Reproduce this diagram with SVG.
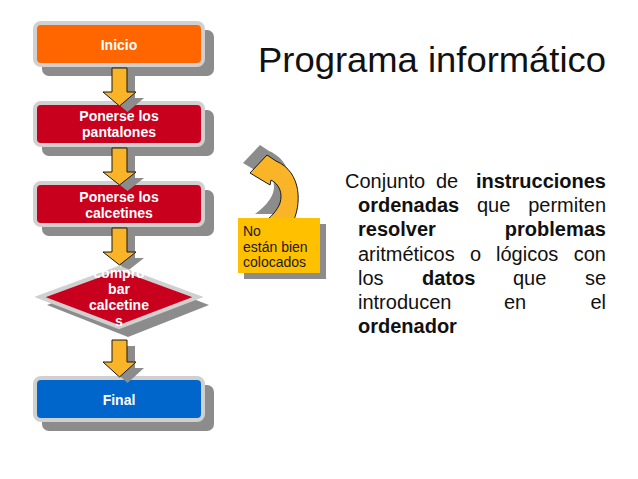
<svg xmlns="http://www.w3.org/2000/svg" width="638" height="479" viewBox="0 0 638 479">
<defs>
<style>
.shadow{fill:#8c8c8c}
.box{stroke:#d0d0d0;stroke-width:4}
.lbl{font-family:"Liberation Sans",Arial,sans-serif;font-size:14px;font-weight:bold;fill:#ffffff;text-anchor:middle}
.arrow{fill:#f9b427;stroke:#1a1a1a;stroke-width:1}
.body{font-family:"Liberation Sans",Arial,sans-serif;font-size:20px;fill:#111111}
.b{font-weight:bold}
.end{text-anchor:end}
</style>
</defs>
<rect width="638" height="479" fill="#ffffff"/>

<g id="node-inicio">
<rect class="shadow" x="42" y="30" width="172" height="46" rx="7"/>
<rect class="box" x="35" y="23" width="168" height="42" rx="6" fill="#ff6600"/>
<text class="lbl" x="119" y="50">Inicio</text>
</g>

<g id="node-pantalones">
<rect class="shadow" x="42" y="110" width="172" height="46" rx="7"/>
<rect class="box" x="35" y="103" width="168" height="42" rx="6" fill="#c8001e"/>
<text class="lbl" x="119" y="121">Ponerse los</text>
<text class="lbl" x="119" y="137">pantalones</text>
</g>

<g id="node-calcetines">
<rect class="shadow" x="42" y="190" width="172" height="46" rx="7"/>
<rect class="box" x="35" y="183" width="168" height="42" rx="6" fill="#c8001e"/>
<text class="lbl" x="119" y="202">Ponerse los</text>
<text class="lbl" x="119" y="218">calcetines</text>
</g>

<g id="node-final">
<rect class="shadow" x="42" y="385" width="172" height="46" rx="7"/>
<rect class="box" x="35" y="378" width="168" height="42" rx="6" fill="#0066cc"/>
<text class="lbl" x="119" y="405">Final</text>
</g>

<g id="connectors">
<g class="shadow">
<polygon points="120,74 135,74 135,98 144,98 127.5,112 111,98 120,98"/>
<polygon points="120,154 135,154 135,178 144,178 127.5,191 111,178 120,178"/>
<polygon points="120,234 135,234 135,258 144,258 127.5,271 111,258 120,258"/>
<polygon points="120,346 135,346 135,368 144,368 127.5,383 111,368 120,368"/>
</g>
<polygon class="arrow" points="112,68 127,68 127,92 136,92 119.5,106 103,92 112,92"/>
<polygon class="arrow" points="112,148 127,148 127,172 136,172 119.5,185 103,172 112,172"/>
<polygon class="arrow" points="112,228 127,228 127,252 136,252 119.5,265 103,252 112,252"/>
</g>

<g id="node-comprobar">
<polygon class="shadow" points="47,305 128,274 209,305 128,337"/>
<polygon class="box" points="40,297 119,268 198,297 119,327" fill="#c8001e"/>
<text class="lbl" x="119" y="278">compro</text>
<text class="lbl" x="119" y="294">bar</text>
<text class="lbl" x="119" y="310">calcetine</text>
<text class="lbl" x="119" y="326">s</text>
</g>

<g id="connector-4">
<polygon class="arrow" points="112,340 127,340 127,362 136,362 119.5,377 103,362 112,362"/>
</g>

<g id="node-loop">
<path class="shadow" transform="translate(-7,-10)" d="M 292 224 C 302 205, 302 172, 276 161 L 267 155 L 250 173 L 270 185 L 271 180 C 279 184, 283 193, 280 203 C 277 211, 271 217, 262 224 Z"/>
<path fill="#f9b427" stroke="#1a1a1a" stroke-width="1" d="M 292 224 C 302 205, 302 172, 276 161 L 267 155 L 250 173 L 270 185 L 271 180 C 279 184, 283 193, 280 203 C 277 211, 271 217, 262 224 Z"/>
</g>

<g id="node-note">
<rect class="shadow" x="244" y="224" width="82" height="55"/>
<rect x="238" y="218" width="82" height="55" fill="#ffc000"/>
<g font-family="Liberation Sans, Arial, sans-serif" font-size="14" fill="#1a1a1a">
<text x="243" y="236">No</text>
<text x="243" y="251.5">están bien</text>
<text x="243" y="266.5">colocados</text>
</g>
</g>

<text x="258" y="72" font-family="Liberation Sans, Arial, sans-serif" font-size="35" fill="#111111" textLength="348" lengthAdjust="spacingAndGlyphs">Programa informático</text>

<g class="body">
<text x="345" y="188">Conjunto</text>
<text x="436" y="188">de</text>
<text class="b end" x="606" y="188">instrucciones</text>
<text class="b" x="358" y="212.2">ordenadas</text>
<text x="477" y="212.2">que</text>
<text class="end" x="606" y="212.2">permiten</text>
<text class="b" x="358" y="236.4">resolver</text>
<text class="b end" x="606" y="236.4">problemas</text>
<text x="358" y="260.6">aritméticos</text>
<text x="470" y="260.6">o</text>
<text x="496" y="260.6">lógicos</text>
<text class="end" x="606" y="260.6">con</text>
<text x="358" y="284.8">los</text>
<text class="b" x="422" y="284.8">datos</text>
<text x="513" y="284.8">que</text>
<text class="end" x="606" y="284.8">se</text>
<text x="358" y="309">introducen</text>
<text x="504" y="309">en</text>
<text class="end" x="606" y="309">el</text>
<text class="b" x="358" y="333.2">ordenador</text>
</g>
</svg>
